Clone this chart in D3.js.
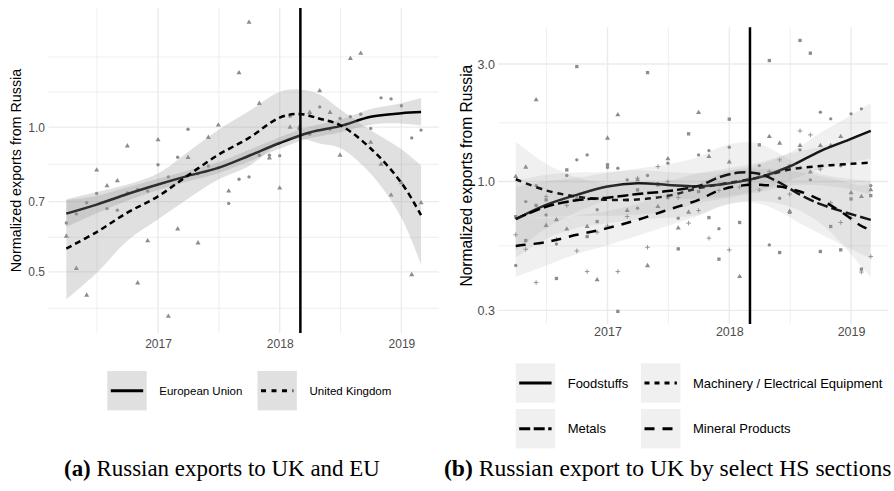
<!DOCTYPE html>
<html><head><meta charset="utf-8">
<script src="https://cdn.jsdelivr.net/npm/d3@7"></script>
<style>body{margin:0;background:#fff}svg{display:block}</style>
</head><body><svg id="c" width="894" height="491"></svg>
<script>
// ---------------- DATA ----------------
// monthly observations, April 2016 .. March 2019
const months = d3.timeMonth.range(new Date(2016, 3, 1), new Date(2019, 3, 1));
const eventDate = new Date(2018, 2, 4);

// Panel (a)
const euValues = [0.632,0.66,0.696,0.728,0.677,0.672,0.730,0.742,0.736,0.835,0.788,0.866,0.990,0.80,0.83,0.824,0.694,0.779,0.788,0.874,0.874,0.872,1.054,0.99,0.967,1.102,0.99,1.043,1.051,1.064,0.994,1.151,1.145,1.108,0.950,0.986];
const ukValues = [0.593,0.508,0.447,0.814,0.755,0.773,0.914,0.474,0.580,0.941,0.404,0.614,0.865,0.574,0.952,1.01,0.736,1.297,1.652,1.120,0.863,0.747,1.0,1.0,1.073,1.19,1.073,0.874,1.39,1.424,0.93,0.837,0.722,0.766,0.493,0.696];
const euSmoothMonth = [0,3,6,9,12,15,18,21,24,27,30,33,35];
const euFit   = [0.661,0.690,0.726,0.760,0.792,0.823,0.872,0.927,0.975,1.005,1.051,1.069,1.075];
const euLower = [0.620,0.662,0.703,0.740,0.772,0.802,0.848,0.902,0.948,0.975,1.012,1.018,1.008];
const euUpper = [0.705,0.720,0.750,0.781,0.813,0.845,0.897,0.953,1.003,1.036,1.091,1.122,1.150];
const ukSmoothMonth = [0,3,6,9,12,15,18,21,23,25,27,30,33,35];
const ukFit   = [0.559,0.605,0.664,0.718,0.794,0.876,0.950,1.047,1.065,1.041,1.010,0.903,0.766,0.656];
const ukUpper = [0.708,0.733,0.760,0.801,0.888,0.986,1.080,1.184,1.198,1.170,1.090,0.985,0.900,0.833];
const ukLower = [0.438,0.497,0.580,0.643,0.710,0.778,0.830,0.925,0.947,0.925,0.905,0.800,0.648,0.517];

// Panel (b)
const foodValues    = [0.456,0.829,0.963,0.732,0.558,1.058,1.225,1.283,0.768,1.14,1.133,1.016,0.78,1.058,0.98,1.188,0.710,0.95,1.283,1.336,0.643,1.379,1.0,1.0,1.161,0.553,0.856,1.161,1.345,1.016,1.913,1.797,1.158,1.883,1.973,0.963];
const machValues    = [1.048,1.143,2.146,0.663,0.70,0.641,0.86,0.657,0.399,1.50,1.865,0.763,1.016,0.455,0.791,1.236,0.647,0.751,1.906,1.263,0.97,1.199,0.411,1.02,1.05,1.523,1.431,0.756,1.40,1.092,1.40,1.40,1.523,0.90,0.869,0.925];
const metalValues   = [0.72,0.576,0.80,0.843,0.404,1.115,2.93,0.598,0.688,1.169,0.297,0.843,0.925,2.77,0.969,0.861,0.533,1.562,0.91,0.714,0.484,1.792,0.682,0.98,1.409,3.10,0.515,0.75,3.74,3.32,0.520,0.657,0.528,0.850,0.441,0.877];
const mineralValues = [0.608,0.531,0.389,0.869,0.583,0.80,0.523,0.431,0.623,0.66,0.431,0.721,1.032,0.541,1.15,1.0,0.861,0.678,0.763,0.589,0.92,0.528,0.95,1.01,0.925,1.098,1.225,0.889,1.606,1.547,1.123,0.82,0.682,0.710,0.429,0.496];

const foodSmoothMonth = [0,3,6,9,12,15,18,21,24,27,30,33,35];
const foodFit   = [0.704,0.804,0.883,0.954,0.985,0.969,0.958,0.985,1.04,1.151,1.33,1.49,1.606];
const foodLower = [0.522,0.645,0.752,0.838,0.874,0.860,0.852,0.874,0.922,1.011,1.122,1.196,1.238];
const foodUpper = [0.950,1.002,1.036,1.087,1.111,1.093,1.082,1.111,1.173,1.311,1.576,1.857,2.083];
const machSmoothMonth = [0,3,6,9,12,15,18,21,24,27,30,33,35];
const machFit   = [1.022,0.92,0.869,0.843,0.846,0.875,0.94,0.988,1.04,1.119,1.157,1.18,1.194];
const machLower = [0.720,0.717,0.726,0.726,0.735,0.760,0.817,0.859,0.904,0.963,0.966,0.929,0.885];
const machUpper = [1.450,1.181,1.040,0.980,0.973,1.006,1.081,1.136,1.196,1.300,1.385,1.500,1.612];
const metalSmoothMonth = [0,3,6,9,12,15,18,20,22,24,26,28,30,32,35];
const metalFit   = [0.704,0.79,0.84,0.86,0.89,0.915,0.96,1.04,1.088,1.075,0.99,0.885,0.81,0.76,0.699];
const metalLower = [0.491,0.585,0.648,0.677,0.700,0.713,0.733,0.786,0.822,0.813,0.755,0.675,0.612,0.557,0.488];
const metalUpper = [1.009,1.066,1.089,1.093,1.131,1.175,1.258,1.376,1.440,1.422,1.297,1.159,1.072,1.036,1.002];
const mineralSmoothMonth = [0,3,6,9,12,15,18,20,22,24,26,28,30,32,34,35];
const mineralFit   = [0.548,0.568,0.608,0.647,0.699,0.768,0.843,0.92,0.961,0.97,0.954,0.911,0.843,0.756,0.66,0.635];
const mineralLower = [0.410,0.456,0.508,0.551,0.602,0.661,0.726,0.792,0.827,0.835,0.813,0.761,0.677,0.566,0.451,0.409];
const mineralUpper = [0.732,0.708,0.728,0.759,0.812,0.892,0.980,1.069,1.117,1.127,1.120,1.091,1.050,1.010,0.965,0.986];

// axis ticks
const xTickYears = [2017, 2018, 2019];
const xTickLabels = ["2017", "2018", "2019"];
const xMinorYears = [2016.5, 2017.5, 2018.5];
const yTicksA = [0.5, 0.7, 1.0];
const yTickLabelsA = ["0.5", "0.7", "1.0"];
const yMinorA = [0.42, 0.59, 0.837, 1.183, 1.40];
const yTicksB = [0.3, 1.0, 3.0];
const yTickLabelsB = ["0.3", "1.0", "3.0"];
const yMinorB = [0.548, 1.732];

const legendA = ["European Union", "United Kingdom"];
const legendB = ["Foodstuffs", "Machinery / Electrical Equipment", "Metals", "Mineral Products"];
const yTitle = "Normalized exports from Russia";

// ---------------- DRAWING ----------------
const svg = d3.select("#c");
const SANS = "'Liberation Sans', Arial, Helvetica, sans-serif";
const PT = "#8c8c8c";

const span = months[months.length - 1] - months[0];
const xDomain = [new Date(+months[0] - span * 0.05), new Date(+months[months.length - 1] + span * 0.05)];
const yearDate = y => { const yr = Math.floor(y); const f = y - yr; const a = new Date(yr, 0, 1), b = new Date(yr + 1, 0, 1); return new Date(+a + f * (b - a)); };

function panel(cfg) {
  const x = d3.scaleTime().domain(xDomain).range([cfg.left, cfg.right]);
  const y = d3.scaleLog().domain(cfg.yDomain).range([cfg.bottom, cfg.top]);
  const g = svg.append("g");
  const grid = g.append("g").attr("stroke", "#ebebeb").attr("fill", "none");
  cfg.yMinor.forEach(v => grid.append("line").attr("x1", cfg.left).attr("x2", cfg.right).attr("y1", y(v)).attr("y2", y(v)).attr("stroke-width", 0.8));
  xMinorYears.forEach(v => grid.append("line").attr("y1", cfg.top).attr("y2", cfg.bottom).attr("x1", x(yearDate(v))).attr("x2", x(yearDate(v))).attr("stroke-width", 0.8));
  cfg.yTicks.forEach(v => grid.append("line").attr("x1", cfg.left).attr("x2", cfg.right).attr("y1", y(v)).attr("y2", y(v)).attr("stroke-width", 1.4));
  xTickYears.forEach(v => grid.append("line").attr("y1", cfg.top).attr("y2", cfg.bottom).attr("x1", x(yearDate(v))).attr("x2", x(yearDate(v))).attr("stroke-width", 1.4));
  const ax = d3.axisBottom(x).tickValues(xTickYears.map(yearDate)).tickFormat((d, i) => xTickLabels[i]).tickSize(0).tickPadding(0);
  const axg = g.append("g").attr("transform", `translate(0,${cfg.xLabelY})`).call(ax);
  axg.select(".domain").remove();
  axg.selectAll("text").attr("font-family", SANS).attr("font-size", cfg.tickFont).attr("fill", "#4d4d4d").attr("dy", "0.71em");
  const ay = d3.axisLeft(y).tickValues(cfg.yTicks).tickFormat((d, i) => cfg.yTickLabels[i]).tickSize(0).tickPadding(0);
  const ayg = g.append("g").attr("transform", `translate(${cfg.yLabelX},0)`).call(ay);
  ayg.select(".domain").remove();
  ayg.selectAll("text").attr("font-family", SANS).attr("font-size", cfg.tickFont).attr("fill", "#4d4d4d");
  g.append("text").attr("transform", `translate(${cfg.titleX},${(cfg.top + cfg.bottom) / 2}) rotate(-90)`)
    .attr("text-anchor", "middle").attr("dy", "0.35em").attr("font-family", SANS).attr("font-size", cfg.titleFont).attr("fill", "#000").text(yTitle);
  const pts = g.append("g");
  cfg.series.forEach(s => {
    s.values.forEach((v, i) => {
      const px = x(months[i]), py = y(v);
      if (s.shape === "plus") {
        pts.append("path").attr("d", `M${px - 2.3},${py}H${px + 2.3}M${px},${py - 2.3}V${py + 2.3}`).attr("stroke", PT).attr("stroke-width", 0.9).attr("fill", "none");
      } else {
        const sym = { circle: [d3.symbolCircle, 9], triangle: [d3.symbolTriangle, 11], square: [d3.symbolSquare, 11] }[s.shape];
        pts.append("path").attr("d", d3.symbol(sym[0], sym[1])()).attr("transform", `translate(${px},${py})`).attr("fill", PT);
      }
    });
  });
  cfg.series.forEach(s => {
    const d = s.sm.map((m, k) => ({ x: x(months[m]), f: y(s.fit[k]), lo: y(s.lo[k]), hi: y(s.hi[k]) }));
    g.append("path").attr("d", d3.area().x(p => p.x).y0(p => p.lo).y1(p => p.hi).curve(d3.curveCatmullRom)(d))
      .attr("fill", "#999999").attr("fill-opacity", cfg.alpha).attr("stroke", "none");
    g.append("path").attr("d", d3.line().x(p => p.x).y(p => p.f).curve(d3.curveCatmullRom)(d))
      .attr("fill", "none").attr("stroke", "#000").attr("stroke-width", 2.5).attr("stroke-dasharray", s.dash || null);
  });
  g.append("line").attr("x1", x(eventDate)).attr("x2", x(eventDate)).attr("y1", cfg.top).attr("y2", cfg.bottom).attr("stroke", "#000").attr("stroke-width", 2.5);
  return g;
}

const seriesA = [
  { values: euValues, shape: "circle", sm: euSmoothMonth, fit: euFit, lo: euLower, hi: euUpper, dash: null },
  { values: ukValues, shape: "triangle", sm: ukSmoothMonth, fit: ukFit, lo: ukLower, hi: ukUpper, dash: "6,4" }
];
panel({ left: 48.6, right: 438.8, top: 8, bottom: 333, yDomain: [0.373, 1.77], yTicks: yTicksA, yTickLabels: yTickLabelsA, yMinor: yMinorA,
  series: seriesA, alpha: 0.3, xLabelY: 339, yLabelX: 45, titleX: 15.5, tickFont: 12, titleFont: 14.3 });

const seriesB = [
  { values: foodValues, shape: "circle", sm: foodSmoothMonth, fit: foodFit, lo: foodLower, hi: foodUpper, dash: null },
  { values: machValues, shape: "triangle", sm: machSmoothMonth, fit: machFit, lo: machLower, hi: machUpper, dash: "6,5" },
  { values: metalValues, shape: "square", sm: metalSmoothMonth, fit: metalFit, lo: metalLower, hi: metalUpper, dash: "11,4" },
  { values: mineralValues, shape: "plus", sm: mineralSmoothMonth, fit: mineralFit, lo: mineralLower, hi: mineralUpper, dash: "10,8" }
];
panel({ left: 498, right: 888.5, top: 27.3, bottom: 324, yDomain: [0.264, 4.23], yTicks: yTicksB, yTickLabels: yTickLabelsB, yMinor: yMinorB,
  series: seriesB, alpha: 0.15, xLabelY: 327, yLabelX: 495, titleX: 466.7, tickFont: 12.5, titleFont: 15.6 });

function legendItem(kx, ky, label, dash, alpha, font) {
  svg.append("rect").attr("x", kx).attr("y", ky).attr("width", 39.4).attr("height", 39.4).attr("fill", "#999999").attr("fill-opacity", alpha);
  svg.append("line").attr("x1", kx + 3.5).attr("x2", kx + 35.9).attr("y1", ky + 19.7).attr("y2", ky + 19.7)
    .attr("stroke", "#000").attr("stroke-width", 3).attr("stroke-dasharray", dash);
  svg.append("text").attr("x", kx + 52).attr("y", ky + 19.7).attr("dy", "0.35em").attr("font-family", SANS).attr("font-size", font).attr("fill", "#000").text(label);
}
legendItem(107.3, 371, legendA[0], null, 0.3, 11.5);
legendItem(257.5, 371, legendA[1], "5,5.5", 0.3, 11.5);
legendItem(515.7, 363.3, legendB[0], null, 0.15, 13);
legendItem(641, 363.3, legendB[1], "5,5", 0.15, 13);
legendItem(515.7, 409, legendB[2], "11,3.5", 0.15, 13);
legendItem(641, 409, legendB[3], "10,8", 0.15, 13);

function caption(x0, target, tag, rest) {
  const t = svg.append("text").attr("x", x0).attr("y", 476).attr("font-family", "'Liberation Serif', 'Times New Roman', serif").attr("font-size", 20).attr("fill", "#000");
  t.append("tspan").attr("font-weight", "bold").text(tag);
  t.append("tspan").text(" " + rest);
  const w = t.node().getComputedTextLength();
  t.attr("font-size", 20 * target / w);
}
caption(64, 316, "(a)", "Russian exports to UK and EU");
caption(444, 448, "(b)", "Russian export to UK by select HS sections");
</script></body></html>
